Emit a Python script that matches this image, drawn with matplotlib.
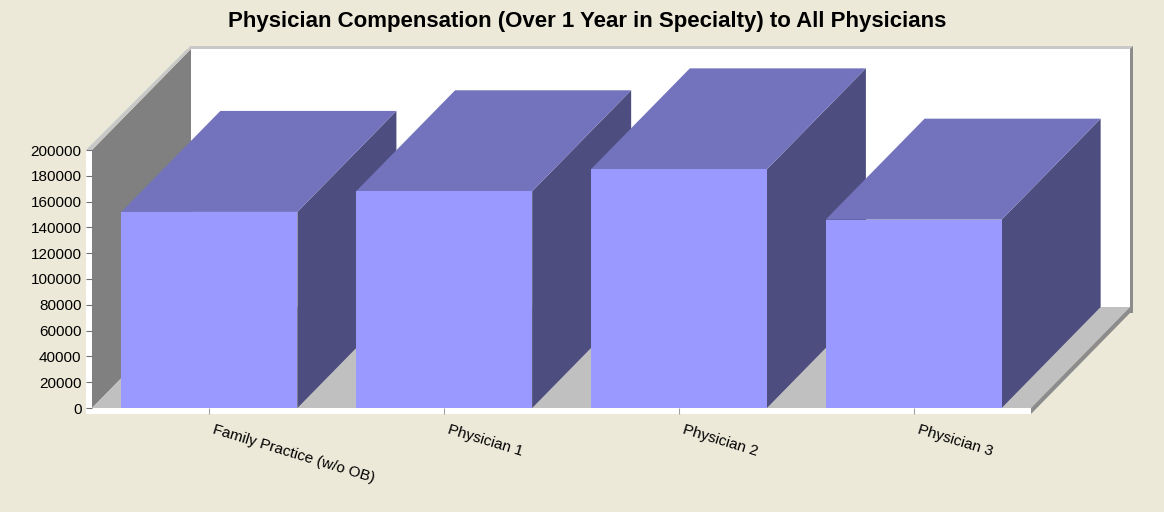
import matplotlib
matplotlib.use("Agg")
import matplotlib.pyplot as plt
from matplotlib.patches import Polygon
from matplotlib.transforms import offset_copy

# ---- data ----
categories = ["Family Practice (w/o OB)", "Physician 1", "Physician 2", "Physician 3"]
values = [152000, 168000, 185000, 146000]
yticks = list(range(0, 200001, 20000))
ymax = 200000
title = "Physician Compensation (Over 1 Year in Specialty) to All Physicians"

# ---- styling / geometry ----
W, H = 1164, 512
ppx = 234.75            # pixels per category
ppy = 258 / ymax        # pixels per value unit
DX = 99 / ppx           # depth offset (category units)
DY = 101 / ppy          # depth offset (value units)
def px_x(p): return p / ppx
def px_y(p): return p / ppy

BG = "#ECE9D8"
FRONT, TOP, SIDE = "#9999FF", "#7373BD", "#4D4D80"
LWALL, FLOOR, BWALL = "#808080", "#C0C0C0", "#FFFFFF"
EDGE_L, EDGE_D = "#C8C8C8", "#8C8C8C"
BW = 0.75

plt.rcParams['font.family'] = ['Liberation Sans', 'DejaVu Sans']
fig = plt.figure(figsize=(W / 100, H / 100), dpi=100, facecolor=BG)
n = len(categories)
ax_w = n * ppx + 99
ax_h = ymax * ppy + 101
ax = fig.add_axes([92 / W, 104 / H, ax_w / W, ax_h / H])
ax.set_facecolor("none")
ax.set_xlim(0, n + DX)
ax.set_ylim(0, ymax + DY)
for s in ax.spines.values():
    s.set_visible(False)

def poly(pts, color, z=1):
    ax.add_patch(Polygon(pts, closed=True, facecolor=color, edgecolor="none",
                         clip_on=False, zorder=z))

tx, ty = px_x(6), px_y(6)
# back wall
poly([(DX, DY), (n + DX, DY), (n + DX, ymax + DY), (DX, ymax + DY)], BWALL)
# back wall edges
poly([(DX - px_x(3), ymax + DY), (n + DX + px_x(3), ymax + DY),
      (n + DX + px_x(3), ymax + DY + px_y(3)), (DX - px_x(1), ymax + DY + px_y(3))], EDGE_L)
poly([(n + DX, DY - ty), (n + DX + px_x(3), DY - ty),
      (n + DX + px_x(3), ymax + DY + px_y(3)), (n + DX, ymax + DY)], EDGE_D)
# left wall
poly([(0, 0), (0, ymax), (DX, ymax + DY), (DX, DY)], LWALL)
poly([(-tx, ymax), (0, ymax), (DX, ymax + DY), (DX - px_x(4), ymax + DY)], EDGE_L)
poly([(-tx, -ty), (0, -ty), (0, ymax), (-tx, ymax)], "#FFFFFF")
# floor
poly([(0, 0), (n, 0), (n + DX, DY), (DX, DY)], FLOOR)
poly([(-tx, -ty), (n, -ty), (n, 0), (-tx, 0)], "#FFFFFF")
poly([(n, -ty), (n, 0), (n + DX, DY), (n + DX, DY - ty)], EDGE_D)

# bars
for i, v in enumerate(values):
    x0 = i + (1 - BW) / 2
    x1 = x0 + BW
    z = 2 + i
    poly([(x1, 0), (x1, v), (x1 + DX, v + DY), (x1 + DX, DY)], SIDE, z)
    poly([(x0, v), (x1, v), (x1 + DX, v + DY), (x0 + DX, v + DY)], TOP, z)
    poly([(x0, 0), (x1, 0), (x1, v), (x0, v)], FRONT, z)

# y axis
ax.set_yticks(yticks)
ax.set_yticklabels([str(t) for t in yticks], fontsize=11)
ax.tick_params(axis='y', direction='out', length=4.5, width=0.8, color="#707070",
               pad=3.0, labelcolor="black")
# x axis
ax.set_xticks([i + 0.5 for i in range(n)])
ax.set_xticklabels([])
ax.tick_params(axis='x', direction='out', length=4.5, width=0.8, color="#A0A0A0")
for i, c in enumerate(categories):
    tr = offset_copy(ax.transData, fig=fig, x=6 * 0.72, y=-15 * 0.72, units='points')
    ax.text(i + 0.5, 0, c, transform=tr, rotation=-17, rotation_mode='anchor',
            ha='left', va='top', fontsize=11, color="black", clip_on=False)

fig.text(587 / W, 1 - 22 / H, title, ha='center', va='center', fontsize=16,
         fontweight='bold', color="black")

fig.savefig("out.png", dpi=100, facecolor=BG)
